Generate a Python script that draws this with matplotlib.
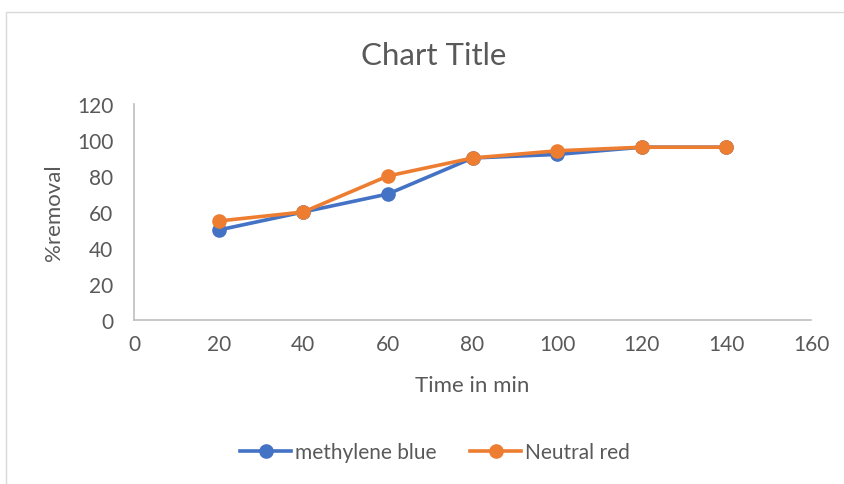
import matplotlib.pyplot as plt
from matplotlib.patches import Rectangle

time_min = [20, 40, 60, 80, 100, 120, 140]
methylene_blue = [50, 60, 70, 90, 92, 96, 96]
neutral_red = [55, 60, 80, 90, 94, 96, 96]

plt.rcParams["font.family"] = ["Lato", "DejaVu Sans"]
text_col = "#595959"

fig = plt.figure(figsize=(8.45, 4.85), dpi=100)
ax = fig.add_axes([0.1586, 0.3381, 0.8012, 0.4454])

ax.plot(time_min, methylene_blue, color="#4472C4", lw=2.6, marker="o", ms=9.5,
        label="methylene blue")
ax.plot(time_min, neutral_red, color="#ED7D31", lw=2.6, marker="o", ms=9.5,
        label="Neutral red")

ax.set_xlim(0, 160)
ax.set_ylim(0, 120)
ax.set_xticks(range(0, 161, 20))
ax.set_yticks(range(0, 121, 20))
for s in ["top", "right"]:
    ax.spines[s].set_visible(False)
for s in ["left", "bottom"]:
    ax.spines[s].set_color("#BFBFBF")
    ax.spines[s].set_linewidth(1.2)
ax.tick_params(length=0, labelsize=15, colors=text_col)
ax.tick_params(axis="x", pad=10)
ax.tick_params(axis="y", pad=15)
ax.set_xlabel("Time in min", fontsize=16, color=text_col, labelpad=15)
ax.set_ylabel("%removal", fontsize=16, color=text_col, labelpad=9)

fig.text(0.513, 0.866, "Chart Title", fontsize=22.5, color=text_col,
         ha="center", va="baseline")

fig.legend(loc="center", bbox_to_anchor=(0.515, 0.066), ncol=2, frameon=False,
           fontsize=15, labelcolor=text_col, handlelength=2.45, columnspacing=1.6,
           handletextpad=0.2)

fig.add_artist(Rectangle((0.0071, -0.1), 1.2, 1.074, transform=fig.transFigure,
                         fill=False, edgecolor="#D9D9D9", lw=1))

fig.savefig("out.png", dpi=100)
